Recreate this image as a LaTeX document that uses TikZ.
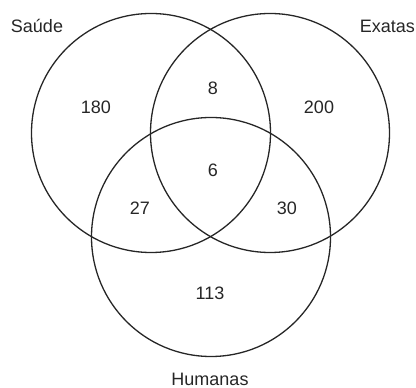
\documentclass[tikz,border=0pt]{standalone}
\usepackage{fontspec}
\setmainfont{Liberation Sans}
\usepackage{tikz}
\usetikzlibrary{positioning}
\tikzset{
    setcirc/.style={circle, draw=black!85, line width=1.3pt, minimum size=239pt, inner sep=0pt},
    txt/.style={text=black!85, inner sep=1pt, font=\fontsize{18}{20}\selectfont}
}

\begin{document}
\begin{tikzpicture}[x=1pt, y=1pt]
    \useasboundingbox (0,0) rectangle (416,388);
    \node [setcirc] (saude) at (151,255) {};
    \node [setcirc] (exatas) at (270,255) {};
    \node [setcirc] (humanas) at (211,151) {};
    \node [txt] (lsaude) at (37,362) {Saúde};
    \node [txt, anchor=east] (lexatas) at (416,362) {Exatas};
    \node [txt] (lhumanas) at (210,9) {Humanas};
    \foreach \x/\y/\v/\n in {96/281/180/s, 213/300/8/se, 319/281/200/e, 213/218/6/seh, 140/180/27/sh, 287/180/30/eh, 210/95/113/h}
        \node [txt] (n\n) at (\x,\y) {\v};
\end{tikzpicture}
\end{document}
